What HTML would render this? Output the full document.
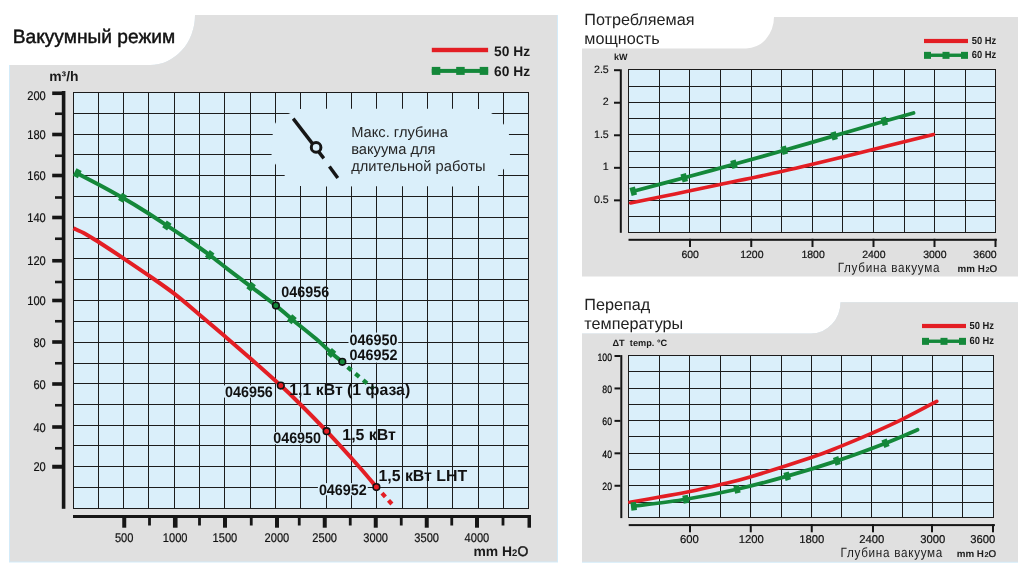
<!DOCTYPE html><html><head><meta charset="utf-8"><title>chart</title><style>html,body{margin:0;padding:0;background:#fff}svg{display:block;will-change:transform;opacity:0.9999}text{font-family:"Liberation Sans",sans-serif;fill:#1a1a1a;text-rendering:geometricPrecision}.b{font-weight:bold}</style></head><body>
<svg width="1024" height="572" viewBox="0 0 1024 572">
<rect width="1024" height="572" fill="#fff"/>
<path d="M9,65 H150 A45,50 0 0 0 195,15 H558 V562.5 H9 Z" fill="#d3ebf9"/>
<path d="M10,65 H150 A45,50 0 0 0 195,15 H557 V561.6 H10 Z" fill="#e0e0e0"/>
<path d="M582,48.5 H746 A28,31.5 0 0 0 774,17 H1018 V276.5 H582 Z" fill="#e0e0e0"/>
<path d="M582,333.5 H811 A29.5,31.2 0 0 0 840.5,302.3 H1018 V562.8 H582 Z" fill="#d3ebf9"/>
<path d="M582,333.5 H811 A29.5,31.2 0 0 0 840.5,302.3 H1018 V561.8 H582 Z" fill="#e0e0e0"/>
<rect x="73" y="92" width="456" height="417" fill="#daeffa"/>
<path d="M73.5,92V509M98.5,92V509M123.5,92V509M148.5,92V509M174.5,92V509M199.5,92V509M224.5,92V509M250.5,92V509M275.5,92V509M300.5,92V509M326.5,92V509M351.5,92V509M376.5,92V509M402.5,92V509M427.5,92V509M452.5,92V509M478.5,92V509M503.5,92V509M528.5,92V509M73,92.5H529M73,113.5H529M73,134.5H529M73,154.5H529M73,175.5H529M73,196.5H529M73,217.5H529M73,238.5H529M73,258.5H529M73,279.5H529M73,300.5H529M73,321.5H529M73,342.5H529M73,363.5H529M73,383.5H529M73,404.5H529M73,425.5H529M73,445.5H529M73,466.5H529M73,487.5H529M73,508.5H529" stroke="#1c1c1c" stroke-width="1" fill="none" shape-rendering="crispEdges"/>
<path d="M300,109C316.57,108.30 360.00,108.80 390.00,108.80C420.00,108.80 463.17,108.30 480.00,109.00C496.83,109.70 487.92,111.50 491.00,113.00C494.08,114.50 496.38,116.10 498.50,118.00C500.62,119.90 501.98,121.72 503.70,124.40C505.42,127.08 507.70,130.67 508.80,134.10C509.90,137.53 510.10,141.63 510.30,145.00C510.50,148.37 510.47,151.30 510.00,154.30C509.53,157.30 508.55,160.53 507.50,163.00C506.45,165.47 505.18,167.10 503.70,169.10C502.22,171.10 500.88,172.85 498.60,175.00C496.32,177.15 493.43,180.17 490.00,182.00C486.57,183.83 494.67,185.28 478.00,186.00C461.33,186.72 419.67,186.30 390.00,186.30C360.33,186.30 316.50,186.80 300.00,186.00C283.50,185.20 293.63,183.33 291.00,181.50C288.37,179.67 286.82,177.92 284.20,175.00C281.58,172.08 277.42,167.45 275.30,164.00C273.18,160.55 272.17,157.47 271.50,154.30C270.83,151.13 271.08,148.37 271.30,145.00C271.52,141.63 272.13,137.73 272.80,134.10C273.47,130.47 273.85,126.05 275.30,123.20C276.75,120.35 278.95,118.70 281.50,117.00C284.05,115.30 287.52,114.33 290.60,113.00C293.68,111.67 283.43,109.70 300.00,109.00Z" fill="#daeffa"/>
<rect x="61.8" y="91" width="3.6" height="417.8" fill="#161616"/>
<rect x="52.2" y="91.45" width="10" height="3.6" fill="#161616"/>
<rect x="55" y="112.45" width="7" height="2.6" fill="#161616"/>
<rect x="52.2" y="132.70" width="10" height="3.6" fill="#161616"/>
<rect x="55" y="154.45" width="7" height="2.6" fill="#161616"/>
<rect x="52.2" y="173.70" width="10" height="3.6" fill="#161616"/>
<rect x="55" y="196.20" width="7" height="2.6" fill="#161616"/>
<rect x="52.2" y="215.70" width="10" height="3.6" fill="#161616"/>
<rect x="55" y="237.45" width="7" height="2.6" fill="#161616"/>
<rect x="52.2" y="258.95" width="10" height="3.6" fill="#161616"/>
<rect x="55" y="280.70" width="7" height="2.6" fill="#161616"/>
<rect x="52.2" y="298.70" width="10" height="3.6" fill="#161616"/>
<rect x="55" y="319.95" width="7" height="2.6" fill="#161616"/>
<rect x="52.2" y="340.20" width="10" height="3.6" fill="#161616"/>
<rect x="55" y="361.95" width="7" height="2.6" fill="#161616"/>
<rect x="52.2" y="382.20" width="10" height="3.6" fill="#161616"/>
<rect x="55" y="403.95" width="7" height="2.6" fill="#161616"/>
<rect x="52.2" y="425.20" width="10" height="3.6" fill="#161616"/>
<rect x="55" y="446.95" width="7" height="2.6" fill="#161616"/>
<rect x="52.2" y="464.75" width="10" height="4.0" fill="#161616"/>
<rect x="73" y="515" width="458" height="3" fill="#161616"/>
<rect x="122.25" y="515" width="4.0" height="12.7" fill="#161616"/>
<rect x="148.10" y="515" width="2.8" height="10.5" fill="#161616"/>
<rect x="172.95" y="515" width="4.6" height="12.7" fill="#161616"/>
<rect x="198.10" y="515" width="2.8" height="10.5" fill="#161616"/>
<rect x="223.00" y="515" width="4.0" height="12.7" fill="#161616"/>
<rect x="249.85" y="515" width="2.8" height="10.5" fill="#161616"/>
<rect x="275.00" y="515" width="4.0" height="12.7" fill="#161616"/>
<rect x="297.85" y="515" width="2.8" height="10.5" fill="#161616"/>
<rect x="322.75" y="515" width="4.0" height="12.7" fill="#161616"/>
<rect x="348.85" y="515" width="2.8" height="10.5" fill="#161616"/>
<rect x="373.75" y="515" width="4.0" height="12.7" fill="#161616"/>
<rect x="399.85" y="515" width="2.8" height="10.5" fill="#161616"/>
<rect x="424.75" y="515" width="4.0" height="12.7" fill="#161616"/>
<rect x="450.35" y="515" width="2.8" height="10.5" fill="#161616"/>
<rect x="475.00" y="515" width="4.0" height="12.7" fill="#161616"/>
<rect x="501.60" y="515" width="2.8" height="10.5" fill="#161616"/>
<rect x="527.5" y="515" width="3.5" height="12.7" fill="#161616"/>
<text transform="translate(45.80 100.25) scale(0.875 1)" font-size="12.7" text-anchor="end" style="fill:#111" stroke="#111" stroke-width="0.2">200</text>
<text transform="translate(45.80 139.00) scale(0.875 1)" font-size="12.7" text-anchor="end" style="fill:#111" stroke="#111" stroke-width="0.2">180</text>
<text transform="translate(45.80 180.00) scale(0.875 1)" font-size="12.7" text-anchor="end" style="fill:#111" stroke="#111" stroke-width="0.2">160</text>
<text transform="translate(45.80 222.00) scale(0.875 1)" font-size="12.7" text-anchor="end" style="fill:#111" stroke="#111" stroke-width="0.2">140</text>
<text transform="translate(45.80 265.25) scale(0.875 1)" font-size="12.7" text-anchor="end" style="fill:#111" stroke="#111" stroke-width="0.2">120</text>
<text transform="translate(45.80 305.00) scale(0.875 1)" font-size="12.7" text-anchor="end" style="fill:#111" stroke="#111" stroke-width="0.2">100</text>
<text transform="translate(45.80 346.50) scale(0.875 1)" font-size="12.7" text-anchor="end" style="fill:#111" stroke="#111" stroke-width="0.2">80</text>
<text transform="translate(45.80 388.50) scale(0.875 1)" font-size="12.7" text-anchor="end" style="fill:#111" stroke="#111" stroke-width="0.2">60</text>
<text transform="translate(45.80 431.50) scale(0.875 1)" font-size="12.7" text-anchor="end" style="fill:#111" stroke="#111" stroke-width="0.2">40</text>
<text transform="translate(45.80 471.25) scale(0.875 1)" font-size="12.7" text-anchor="end" style="fill:#111" stroke="#111" stroke-width="0.2">20</text>
<text transform="translate(124.15 541.80) scale(0.875 1)" font-size="12.7" text-anchor="middle" style="fill:#111" stroke="#111" stroke-width="0.2">500</text>
<text transform="translate(175.15 541.80) scale(0.875 1)" font-size="12.7" text-anchor="middle" style="fill:#111" stroke="#111" stroke-width="0.2">1000</text>
<text transform="translate(224.90 541.80) scale(0.875 1)" font-size="12.7" text-anchor="middle" style="fill:#111" stroke="#111" stroke-width="0.2">1500</text>
<text transform="translate(276.90 541.80) scale(0.875 1)" font-size="12.7" text-anchor="middle" style="fill:#111" stroke="#111" stroke-width="0.2">2000</text>
<text transform="translate(324.65 541.80) scale(0.875 1)" font-size="12.7" text-anchor="middle" style="fill:#111" stroke="#111" stroke-width="0.2">2500</text>
<text transform="translate(375.65 541.80) scale(0.875 1)" font-size="12.7" text-anchor="middle" style="fill:#111" stroke="#111" stroke-width="0.2">3000</text>
<text transform="translate(426.65 541.80) scale(0.875 1)" font-size="12.7" text-anchor="middle" style="fill:#111" stroke="#111" stroke-width="0.2">3500</text>
<text transform="translate(476.90 541.80) scale(0.875 1)" font-size="12.7" text-anchor="middle" style="fill:#111" stroke="#111" stroke-width="0.2">4000</text>
<text x="49.2" y="80.7" font-size="13.9" class="b">m³/h</text>
<text x="473.5" y="556.2" font-size="13.9" class="b" textLength="54.7" lengthAdjust="spacingAndGlyphs">mm H<tspan font-size="9.5">2</tspan><tspan font-weight="normal" stroke="#1a1a1a" stroke-width="0.5">O</tspan></text>
<text x="12.7" y="43.4" font-size="19.2" style="fill:#111;stroke:#111;stroke-width:0.45">Вакуумный режим</text>
<rect x="431.8" y="47.8" width="56.3" height="4.4" fill="#e31e24"/>
<rect x="431.8" y="68.9" width="56.3" height="4" fill="#14883a"/>
<rect x="431.8" y="66.9" width="8.5" height="8" fill="#14883a"/>
<rect x="456.2" y="66.9" width="8.5" height="8" fill="#14883a"/>
<rect x="479.7" y="66.9" width="8.5" height="8" fill="#14883a"/>
<text x="494" y="56" font-size="13.8" class="b">50 Hz</text>
<text x="494" y="75.8" font-size="13.8" class="b">60 Hz</text>
<line x1="293.2" y1="118.6" x2="323.8" y2="158.4" stroke="#161616" stroke-width="3.4"/>
<line x1="329.4" y1="166.5" x2="337.8" y2="178" stroke="#161616" stroke-width="3.4"/>
<circle cx="316.1" cy="147.4" r="4.8" fill="#daeffa" stroke="#161616" stroke-width="3"/>
<text x="351.2" y="137.2" font-size="14.7" style="fill:#262626">Макс. глубина</text>
<text x="351.2" y="153.9" font-size="14.7" style="fill:#262626">вакуума для</text>
<text x="351.2" y="171.1" font-size="14.7" style="fill:#262626">длительной работы</text>
<text transform="translate(281.30 296.80) scale(0.95 1)" font-size="15.1" text-anchor="start" class="b" style="fill:#111" >046956</text>
<rect x="348.5" y="332.6" width="49.7" height="30" fill="#daeffa"/>
<text transform="translate(349.60 344.80) scale(0.95 1)" font-size="15.1" text-anchor="start" class="b" style="fill:#111" >046950</text>
<text transform="translate(349.60 359.80) scale(0.95 1)" font-size="15.1" text-anchor="start" class="b" style="fill:#111" >046952</text>
<rect x="224.0" y="385.40000000000003" width="49.8" height="12.2" fill="#daeffa"/>
<text transform="translate(225.00 396.80) scale(0.95 1)" font-size="15.1" text-anchor="start" class="b" style="fill:#111" >046956</text>
<rect x="272.2" y="432.0" width="49.8" height="12.2" fill="#daeffa"/>
<text transform="translate(273.20 443.40) scale(0.95 1)" font-size="15.1" text-anchor="start" class="b" style="fill:#111" >046950</text>
<rect x="317.9" y="483.1" width="49.8" height="12.2" fill="#daeffa"/>
<text transform="translate(318.90 494.50) scale(0.95 1)" font-size="15.1" text-anchor="start" class="b" style="fill:#111" >046952</text>
<path d="M77.20,173.30C80.92,175.25 91.93,180.92 99.50,185.00C107.07,189.08 115.02,193.43 122.60,197.80C130.18,202.17 137.62,206.58 145.00,211.20C152.38,215.82 159.65,220.70 166.90,225.50C174.15,230.30 181.37,235.07 188.50,240.00C195.63,244.93 203.12,250.22 209.70,255.10C216.28,259.98 221.10,264.03 228.00,269.30C234.90,274.57 243.12,280.65 251.10,286.70C259.08,292.75 269.10,300.18 275.90,305.60C282.70,311.02 285.22,313.67 291.90,319.20C298.58,324.73 309.42,333.18 316.00,338.80C322.58,344.42 327.02,349.07 331.40,352.90C335.78,356.73 340.48,360.32 342.30,361.80" stroke="#14883a" stroke-width="4.0" fill="none"/>
<path d="M347.6,367.15 L373.6,388.9" stroke="#14883a" stroke-width="4.2" stroke-dasharray="5,5.15" fill="none"/>
<path d="M73.40,228.20C75.42,229.15 81.30,231.60 85.50,233.90C89.70,236.20 92.28,237.93 98.60,242.00C104.92,246.07 115.07,252.73 123.40,258.30C131.73,263.87 140.08,269.47 148.60,275.40C157.12,281.33 166.02,287.35 174.50,293.90C182.98,300.45 191.15,307.67 199.50,314.70C207.85,321.73 216.15,328.83 224.60,336.10C233.05,343.37 240.83,350.05 250.20,358.30C259.57,366.55 272.83,378.32 280.80,385.60C288.77,392.88 290.37,394.40 298.00,402.00C305.63,409.60 316.38,420.37 326.60,431.20C336.82,442.03 351.00,457.68 359.30,467.00C367.60,476.32 373.55,483.75 376.40,487.10" stroke="#e31e24" stroke-width="4.0" fill="none"/>
<path d="M382,493.15 L391.9,504.05" stroke="#e31e24" stroke-width="4.2" stroke-dasharray="5,4.7" fill="none"/>
<rect x="74.30" y="169.20" width="5.8" height="8.2" fill="#14883a" transform="rotate(27.684364489996145 77.20 173.30)"/>
<rect x="119.70" y="193.70" width="5.8" height="8.2" fill="#14883a" transform="rotate(29.934377632508244 122.60 197.80)"/>
<rect x="164.00" y="221.40" width="5.8" height="8.2" fill="#14883a" transform="rotate(33.50730648869004 166.90 225.50)"/>
<rect x="206.80" y="251.00" width="5.8" height="8.2" fill="#14883a" transform="rotate(36.566994760725294 209.70 255.10)"/>
<rect x="248.20" y="282.60" width="5.8" height="8.2" fill="#14883a" transform="rotate(37.155897497639124 251.10 286.70)"/>
<rect x="289.00" y="315.10" width="5.8" height="8.2" fill="#14883a" transform="rotate(39.62238304611268 291.90 319.20)"/>
<rect x="328.50" y="348.80" width="5.8" height="8.2" fill="#14883a" transform="rotate(41.17049819260018 331.40 352.90)"/>
<circle cx="275.9" cy="305.6" r="3.3" fill="#14883a" stroke="#111" stroke-width="1.6"/>
<circle cx="342.3" cy="361.8" r="3.3" fill="#14883a" stroke="#111" stroke-width="1.6"/>
<circle cx="280.8" cy="385.6" r="3.3" fill="#e31e24" stroke="#111" stroke-width="1.6"/>
<circle cx="326.6" cy="431.2" r="3.3" fill="#e31e24" stroke="#111" stroke-width="1.6"/>
<circle cx="376.4" cy="487.1" r="3.3" fill="#e31e24" stroke="#111" stroke-width="1.6"/>
<text x="289.3" y="395.4" font-size="15.85" class="b" style="fill:#111">1,1 кВт (1 фаза)</text>
<text x="342.3" y="440.3" font-size="15.9" class="b" style="fill:#111">1,5 кВт</text>
<text x="378.4" y="481.4" font-size="15.9" class="b" style="fill:#111">1,5 кВт LHT</text>
<rect x="628" y="69" width="368" height="164" fill="#daeffa"/>
<path d="M628.5,69V233M659.5,69V233M689.5,69V233M720.5,69V233M751.5,69V233M781.5,69V233M812.5,69V233M842.5,69V233M873.5,69V233M904.5,69V233M934.5,69V233M965.5,69V233M995.5,69V233M628,69.5H996M628,86.5H996M628,102.5H996M628,118.5H996M628,134.5H996M628,151.5H996M628,167.5H996M628,183.5H996M628,200.5H996M628,216.5H996M628,232.5H996" stroke="#1c1c1c" stroke-width="1" fill="none" shape-rendering="crispEdges"/>
<rect x="619.8" y="69.3" width="2.0" height="163.50" fill="#161616"/>
<rect x="614.0" y="69.20" width="6" height="2" fill="#161616"/>
<text transform="translate(608.80 72.60) scale(1 1)" font-size="10.7" text-anchor="end" style="fill:#111" stroke="#111" stroke-width="0.15">2.5</text>
<rect x="614.0" y="101.74" width="6" height="2" fill="#161616"/>
<text transform="translate(608.80 105.14) scale(1 1)" font-size="10.7" text-anchor="end" style="fill:#111" stroke="#111" stroke-width="0.15">2</text>
<rect x="614.0" y="134.28" width="6" height="2" fill="#161616"/>
<text transform="translate(608.80 137.68) scale(1 1)" font-size="10.7" text-anchor="end" style="fill:#111" stroke="#111" stroke-width="0.15">1.5</text>
<rect x="614.0" y="166.82" width="6" height="2" fill="#161616"/>
<text transform="translate(608.80 170.22) scale(1 1)" font-size="10.7" text-anchor="end" style="fill:#111" stroke="#111" stroke-width="0.15">1</text>
<rect x="614.0" y="199.36" width="6" height="2" fill="#161616"/>
<text transform="translate(608.80 202.76) scale(1 1)" font-size="10.7" text-anchor="end" style="fill:#111" stroke="#111" stroke-width="0.15">0.5</text>
<rect x="628.5" y="238.80" width="368.30" height="2" fill="#161616"/>
<rect x="689" y="238.80" width="2" height="8.2" fill="#161616"/>
<rect x="750.25" y="238.80" width="2" height="8.2" fill="#161616"/>
<rect x="811.5" y="238.80" width="2" height="8.2" fill="#161616"/>
<rect x="872.5" y="238.80" width="2" height="8.2" fill="#161616"/>
<rect x="933.5" y="238.80" width="2" height="8.2" fill="#161616"/>
<rect x="994.5" y="238.80" width="2" height="8.2" fill="#161616"/>
<text transform="translate(690.20 257.70) scale(1 1)" font-size="10.5" text-anchor="middle" style="fill:#111" stroke="#111" stroke-width="0.2">600</text>
<text transform="translate(751.80 257.70) scale(1 1)" font-size="10.5" text-anchor="middle" style="fill:#111" stroke="#111" stroke-width="0.2">1200</text>
<text transform="translate(813.10 257.70) scale(1 1)" font-size="10.5" text-anchor="middle" style="fill:#111" stroke="#111" stroke-width="0.2">1800</text>
<text transform="translate(873.80 257.70) scale(1 1)" font-size="10.5" text-anchor="middle" style="fill:#111" stroke="#111" stroke-width="0.2">2400</text>
<text transform="translate(934.80 257.70) scale(1 1)" font-size="10.5" text-anchor="middle" style="fill:#111" stroke="#111" stroke-width="0.2">3000</text>
<text transform="translate(985.00 257.70) scale(1 1)" font-size="10.5" text-anchor="middle" style="fill:#111" stroke="#111" stroke-width="0.2">3600</text>
<rect x="628" y="355" width="366" height="163" fill="#daeffa"/>
<path d="M628.5,355V518M659.5,355V518M689.5,355V518M720.5,355V518M750.5,355V518M781.5,355V518M811.5,355V518M841.5,355V518M871.5,355V518M902.5,355V518M932.5,355V518M962.5,355V518M993.5,355V518M628,355.5H994M628,371.5H994M628,388.5H994M628,404.5H994M628,420.5H994M628,436.5H994M628,453.5H994M628,469.5H994M628,485.5H994M628,502.5H994M628,517.5H994" stroke="#1c1c1c" stroke-width="1" fill="none" shape-rendering="crispEdges"/>
<rect x="620.3" y="355.1" width="2.0" height="163.00" fill="#161616"/>
<rect x="614.5" y="355.00" width="6" height="2" fill="#161616"/>
<text transform="translate(612.00 360.60) scale(0.82 1)" font-size="10.6" text-anchor="end" style="fill:#000" stroke="#000" stroke-width="0.2">100</text>
<rect x="614.5" y="387.44" width="6" height="2" fill="#161616"/>
<text transform="translate(612.00 393.04) scale(0.82 1)" font-size="10.6" text-anchor="end" style="fill:#000" stroke="#000" stroke-width="0.2">80</text>
<rect x="614.5" y="419.88" width="6" height="2" fill="#161616"/>
<text transform="translate(612.00 425.48) scale(0.82 1)" font-size="10.6" text-anchor="end" style="fill:#000" stroke="#000" stroke-width="0.2">60</text>
<rect x="614.5" y="452.32" width="6" height="2" fill="#161616"/>
<text transform="translate(612.00 457.92) scale(0.82 1)" font-size="10.6" text-anchor="end" style="fill:#000" stroke="#000" stroke-width="0.2">40</text>
<rect x="614.5" y="484.76" width="6" height="2" fill="#161616"/>
<text transform="translate(612.00 490.36) scale(0.82 1)" font-size="10.6" text-anchor="end" style="fill:#000" stroke="#000" stroke-width="0.2">20</text>
<rect x="628.7" y="524.10" width="366.20" height="2" fill="#161616"/>
<rect x="689" y="524.10" width="2" height="8.2" fill="#161616"/>
<rect x="749.75" y="524.10" width="2" height="8.2" fill="#161616"/>
<rect x="810.75" y="524.10" width="2" height="8.2" fill="#161616"/>
<rect x="872" y="524.10" width="2" height="8.2" fill="#161616"/>
<rect x="931" y="524.10" width="2" height="8.2" fill="#161616"/>
<rect x="992" y="524.10" width="2" height="8.2" fill="#161616"/>
<text transform="translate(689.40 543.00) scale(1 1)" font-size="11.3" text-anchor="middle" style="fill:#111" stroke="#111" stroke-width="0.2">600</text>
<text transform="translate(751.20 543.00) scale(1 1)" font-size="11.3" text-anchor="middle" style="fill:#111" stroke="#111" stroke-width="0.2">1200</text>
<text transform="translate(811.80 543.00) scale(1 1)" font-size="11.3" text-anchor="middle" style="fill:#111" stroke="#111" stroke-width="0.2">1800</text>
<text transform="translate(871.80 543.00) scale(1 1)" font-size="11.3" text-anchor="middle" style="fill:#111" stroke="#111" stroke-width="0.2">2400</text>
<text transform="translate(932.80 543.00) scale(1 1)" font-size="11.3" text-anchor="middle" style="fill:#111" stroke="#111" stroke-width="0.2">3000</text>
<text transform="translate(982.80 543.00) scale(1 1)" font-size="11.3" text-anchor="middle" style="fill:#111" stroke="#111" stroke-width="0.2">3600</text>
<text x="584.3" y="25" font-size="16.2" style="fill:#222">Потребляемая</text>
<text x="584.3" y="43.75" font-size="16.2" style="fill:#222">мощность</text>
<text x="584.3" y="310.25" font-size="16.2" style="fill:#222">Перепад</text>
<text x="584.3" y="329" font-size="16.2" style="fill:#222">температуры</text>
<text x="614" y="59.5" font-size="9" class="b">kW</text>
<text x="612.5" y="346" font-size="9.2" class="b" xml:space="preserve">ΔT  temp. °C</text>
<rect x="924" y="38.9" width="44" height="4.2" fill="#e31e24"/>
<rect x="924" y="53.55" width="44" height="3.4" fill="#14883a"/>
<rect x="924.00" y="51.85" width="7" height="7" fill="#14883a"/>
<rect x="942.50" y="51.85" width="7" height="7" fill="#14883a"/>
<rect x="961.00" y="51.85" width="7" height="7" fill="#14883a"/>
<text transform="translate(971.70 43.60) scale(0.91 1)" font-size="10.3" text-anchor="start" class="b" style="fill:#1a1a1a" >50 Hz</text>
<text transform="translate(971.70 57.75) scale(0.91 1)" font-size="10.3" text-anchor="start" class="b" style="fill:#1a1a1a" >60 Hz</text>
<rect x="922" y="323.9" width="44" height="4.2" fill="#e31e24"/>
<rect x="922" y="339.55" width="44" height="3.4" fill="#14883a"/>
<rect x="922.00" y="337.85" width="7" height="7" fill="#14883a"/>
<rect x="940.50" y="337.85" width="7" height="7" fill="#14883a"/>
<rect x="959.00" y="337.85" width="7" height="7" fill="#14883a"/>
<text transform="translate(969.50 328.60) scale(0.91 1)" font-size="10.3" text-anchor="start" class="b" style="fill:#1a1a1a" >50 Hz</text>
<text transform="translate(969.50 343.75) scale(0.91 1)" font-size="10.3" text-anchor="start" class="b" style="fill:#1a1a1a" >60 Hz</text>
<text transform="translate(837.70 271.60) scale(0.88 1)" font-size="13.3" text-anchor="start" style="fill:#1c1c1c" letter-spacing="0.8">Глубина вакуума</text>
<text transform="translate(957.60 271.60) scale(1 1)" font-size="9.8" text-anchor="start" class="b" style="fill:#1a1a1a" >mm H</text>
<text transform="translate(985.50 271.60) scale(1 1)" font-size="7.3" text-anchor="start" class="b" style="fill:#1a1a1a" >2</text>
<text transform="translate(989.40 271.60) scale(1 1)" font-size="9.8" text-anchor="start" style="fill:#1a1a1a" stroke="#1a1a1a" stroke-width="0.35">O</text>
<text transform="translate(840.60 556.80) scale(0.88 1)" font-size="13.3" text-anchor="start" style="fill:#1c1c1c" letter-spacing="0.8">Глубина вакуума</text>
<text transform="translate(956.70 556.70) scale(1 1)" font-size="9.8" text-anchor="start" class="b" style="fill:#1a1a1a" >mm H</text>
<text transform="translate(984.60 556.70) scale(1 1)" font-size="7.3" text-anchor="start" class="b" style="fill:#1a1a1a" >2</text>
<text transform="translate(988.50 556.70) scale(1 1)" font-size="9.8" text-anchor="start" style="fill:#1a1a1a" stroke="#1a1a1a" stroke-width="0.35">O</text>
<path d="M630.50,203.00C637.92,201.50 660.08,197.08 675.00,194.00C689.92,190.92 702.08,188.29 720.00,184.50C737.92,180.71 759.83,176.38 782.50,171.25C805.17,166.12 830.83,159.88 856.00,153.75C881.17,147.62 920.58,137.71 933.50,134.50" stroke="#e31e24" stroke-width="3.6" fill="none" stroke-linecap="round"/>
<path d="M633.25,191.25C641.75,189.00 667.46,182.25 684.25,177.75C701.04,173.25 717.33,168.83 734.00,164.25C750.67,159.67 767.57,154.97 784.25,150.25C800.93,145.53 817.43,140.73 834.10,135.90C850.77,131.07 871.02,125.07 884.25,121.25C897.48,117.43 908.62,114.38 913.50,113.00" stroke="#14883a" stroke-width="3.8" fill="none" stroke-linecap="round"/>
<rect x="630.45" y="187.15" width="5.6" height="8.2" fill="#14883a" transform="rotate(-15.5 633.25 191.25)"/>
<rect x="681.45" y="173.65" width="5.6" height="8.2" fill="#14883a" transform="rotate(-15.5 684.25 177.75)"/>
<rect x="731.20" y="160.15" width="5.6" height="8.2" fill="#14883a" transform="rotate(-15.5 734.00 164.25)"/>
<rect x="781.45" y="146.15" width="5.6" height="8.2" fill="#14883a" transform="rotate(-15.5 784.25 150.25)"/>
<rect x="831.30" y="131.80" width="5.6" height="8.2" fill="#14883a" transform="rotate(-15.5 834.10 135.90)"/>
<rect x="881.45" y="117.15" width="5.6" height="8.2" fill="#14883a" transform="rotate(-15.5 884.25 121.25)"/>
<path d="M629.80,502.20C634.77,501.33 649.57,498.77 659.60,497.00C669.63,495.23 679.82,493.67 690.00,491.60C700.18,489.53 710.70,487.03 720.70,484.60C730.70,482.17 734.91,481.52 750.00,477.00C765.09,472.48 796.25,462.57 811.25,457.50C826.25,452.43 829.96,450.62 840.00,446.60C850.04,442.58 861.22,437.90 871.50,433.40C881.78,428.90 890.82,424.95 901.70,419.60C912.58,414.25 930.95,404.35 936.80,401.30" stroke="#e31e24" stroke-width="3.6" fill="none" stroke-linecap="round"/>
<path d="M633.75,506.25C642.42,505.08 668.54,502.08 685.75,499.25C702.96,496.42 720.09,493.09 737.00,489.25C753.91,485.41 770.55,480.93 787.20,476.20C803.85,471.47 820.52,466.39 836.90,460.90C853.28,455.41 872.07,448.44 885.50,443.25C898.93,438.06 912.17,432.00 917.50,429.75" stroke="#14883a" stroke-width="3.8" fill="none" stroke-linecap="round"/>
<rect x="630.95" y="502.15" width="5.6" height="8.2" fill="#14883a" transform="rotate(-7 633.75 506.25)"/>
<rect x="682.95" y="495.15" width="5.6" height="8.2" fill="#14883a" transform="rotate(-10 685.75 499.25)"/>
<rect x="734.20" y="485.15" width="5.6" height="8.2" fill="#14883a" transform="rotate(-13 737.00 489.25)"/>
<rect x="784.40" y="472.10" width="5.6" height="8.2" fill="#14883a" transform="rotate(-16 787.20 476.20)"/>
<rect x="834.10" y="456.80" width="5.6" height="8.2" fill="#14883a" transform="rotate(-18.5 836.90 460.90)"/>
<rect x="882.70" y="439.15" width="5.6" height="8.2" fill="#14883a" transform="rotate(-21 885.50 443.25)"/>
</svg></body></html>
